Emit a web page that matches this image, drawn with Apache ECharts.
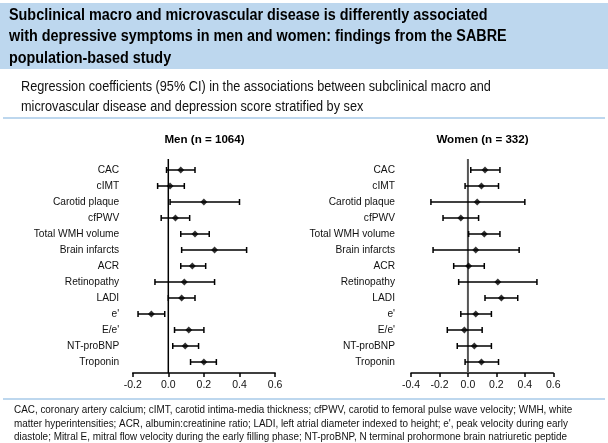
<!DOCTYPE html>
<html>
<head>
<meta charset="utf-8">
<script src="https://cdn.jsdelivr.net/npm/echarts@6/dist/echarts.min.js"></script>
<style>
  html, body { margin: 0; padding: 0; background: #fff; }
  #main { width: 608px; height: 443px; }
</style>
</head>
<body>
<div id="main"></div>
<script>
// 行标签
var categories = ["CAC", "cIMT", "Carotid plaque", "cfPWV", "Total WMH volume", "Brain infarcts",
  "ACR", "Retinopathy", "LADI", "e'", "E/e'", "NT-proBNP", "Troponin"];

// Men (n = 1064): point estimate and 95% CI
var menEst  = [0.07, 0.01, 0.20, 0.04, 0.15, 0.26, 0.135, 0.09, 0.075, -0.095, 0.115, 0.095, 0.20];
var menLow  = [-0.01, -0.06, 0.01, -0.04, 0.07, 0.075, 0.07, -0.075, 0.0, -0.17, 0.035, 0.025, 0.125];
var menHigh = [0.15, 0.09, 0.40, 0.12, 0.23, 0.44, 0.21, 0.26, 0.15, -0.02, 0.20, 0.17, 0.27];

// Women (n = 332)
var womenEst  = [0.12, 0.095, 0.065, -0.05, 0.115, 0.055, 0.005, 0.21, 0.235, 0.055, -0.025, 0.045, 0.095];
var womenLow  = [0.02, -0.02, -0.26, -0.175, 0.005, -0.245, -0.10, -0.065, 0.12, -0.05, -0.145, -0.075, -0.02];
var womenHigh = [0.225, 0.215, 0.40, 0.075, 0.225, 0.36, 0.115, 0.485, 0.35, 0.165, 0.10, 0.165, 0.215];

var font = '"Liberation Sans", Arial, sans-serif';
var band = "#bdd7ee";

function ciData(low, high) {
  var out = [];
  for (var i = 0; i < low.length; i++) out.push([low[i], high[i], i]);
  return out;
}
function estData(est) {
  var out = [];
  for (var i = 0; i < est.length; i++) out.push([est[i], i]);
  return out;
}

function renderCI(params, api) {
  var a = api.coord([api.value(0), api.value(2)]);
  var b = api.coord([api.value(1), api.value(2)]);
  var st = { stroke: "#000", lineWidth: 1.5 };
  return {
    type: "group",
    children: [
      { type: "line", shape: { x1: a[0], y1: a[1], x2: b[0], y2: b[1] }, style: st },
      { type: "line", shape: { x1: a[0], y1: a[1] - 3, x2: a[0], y2: a[1] + 3 }, style: st },
      { type: "line", shape: { x1: b[0], y1: b[1] - 3, x2: b[0], y2: b[1] + 3 }, style: st }
    ]
  };
}

function zeroLine(color, width) {
  return function (params, api) {
    var top = api.coord([0, 0]);
    var bot = api.coord([0, categories.length - 1]);
    return {
      type: "line",
      shape: { x1: top[0], y1: top[1] - 11, x2: bot[0], y2: bot[1] + 11 },
      style: { stroke: color, lineWidth: width }
    };
  };
}

function xAxisCfg(idx, min) {
  return {
    gridIndex: idx, type: "value", min: min, max: 0.6, interval: 0.2, offset: 3,
    axisLine: { show: true, lineStyle: { color: "#000", width: 1.5 } },
    axisTick: { show: true, length: 4, lineStyle: { color: "#000", width: 1.5 } },
    axisLabel: {
      margin: 7, fontSize: 10.5, color: "#111", fontFamily: font,
      formatter: function (v) { return v.toFixed(1); }
    },
    splitLine: { show: false }
  };
}

function yAxisCfg(idx, margin) {
  return {
    gridIndex: idx, type: "category", data: categories, inverse: true,
    axisLine: { show: false }, axisTick: { show: false },
    axisLabel: { margin: margin, fontSize: 10.2, color: "#111", fontFamily: font },
    splitLine: { show: false }
  };
}

// 文字稍微横向压缩, 跟原图一样
function txt(x, y, s, f, sx, extra) {
  var style = { text: s, font: f, fill: "#111", verticalAlign: "middle" };
  for (var k in extra) style[k] = extra[k];
  return { type: "text", x: x, y: y, scaleX: sx, style: style };
}

var chart = echarts.init(document.getElementById("main"));
chart.setOption({
  animation: false,
  grid: [
    { left: 132.7, width: 142.4, top: 162, height: 208 },
    { left: 411, width: 142.3, top: 162, height: 208 }
  ],
  xAxis: [xAxisCfg(0, -0.2), xAxisCfg(1, -0.4)],
  yAxis: [yAxisCfg(0, 13.5), yAxisCfg(1, 16)],
  series: [
    { type: "custom", xAxisIndex: 0, yAxisIndex: 0, renderItem: zeroLine("#000", 1.5), data: [[0, 0]], silent: true },
    { type: "custom", xAxisIndex: 1, yAxisIndex: 1, renderItem: zeroLine("#555", 2), data: [[0, 0]], silent: true },
    { type: "custom", xAxisIndex: 0, yAxisIndex: 0, renderItem: renderCI, data: ciData(menLow, menHigh) },
    { type: "custom", xAxisIndex: 1, yAxisIndex: 1, renderItem: renderCI, data: ciData(womenLow, womenHigh) },
    { type: "scatter", xAxisIndex: 0, yAxisIndex: 0, symbol: "diamond", symbolSize: 7,
      itemStyle: { color: "#000" }, data: estData(menEst), z: 5 },
    { type: "scatter", xAxisIndex: 1, yAxisIndex: 1, symbol: "diamond", symbolSize: 7,
      itemStyle: { color: "#000" }, data: estData(womenEst), z: 5 }
  ],
  graphic: [
    { type: "rect", shape: { x: 0, y: 3, width: 608, height: 66 }, style: { fill: band }, z: -1 },
    txt(9, 16, "Subclinical macro and microvascular disease is differently associated", "bold 15.8px " + font, 0.91, { fill: "#000" }),
    txt(9, 37, "with depressive symptoms in men and women: findings from the SABRE", "bold 15.8px " + font, 0.91, { fill: "#000" }),
    txt(9, 58.5, "population-based study", "bold 15.8px " + font, 0.91, { fill: "#000" }),
    txt(21, 87.5, "Regression coefficients (95% CI) in the associations between subclinical macro and", "14px " + font, 0.907, {}),
    txt(21, 107.5, "microvascular disease and depression score stratified by sex", "14px " + font, 0.907, {}),
    { type: "rect", shape: { x: 3, y: 117, width: 602, height: 2 }, style: { fill: band } },
    { type: "text", x: 204.5, y: 140, style: { text: "Men (n = 1064)", font: "bold 11.6px " + font,
      fill: "#000", align: "center", verticalAlign: "middle" } },
    { type: "text", x: 482.5, y: 140, style: { text: "Women (n = 332)", font: "bold 11.6px " + font,
      fill: "#000", align: "center", verticalAlign: "middle" } },
    { type: "rect", shape: { x: 3, y: 398, width: 602, height: 2 }, style: { fill: band } },
    txt(14, 410.5, "CAC, coronary artery calcium; cIMT, carotid intima-media thickness; cfPWV, carotid to femoral pulse wave velocity; WMH, white", "10.5px " + font, 0.943, {}),
    txt(14, 424, "matter hyperintensities; ACR, albumin:creatinine ratio; LADI, left atrial diameter indexed to height; e', peak velocity during early", "10.5px " + font, 0.943, {}),
    txt(14, 437.5, "diastole; Mitral E, mitral flow velocity during the early filling phase; NT-proBNP, N terminal prohormone brain natriuretic peptide", "10.5px " + font, 0.943, {})
  ]
});
</script>
</body>
</html>
